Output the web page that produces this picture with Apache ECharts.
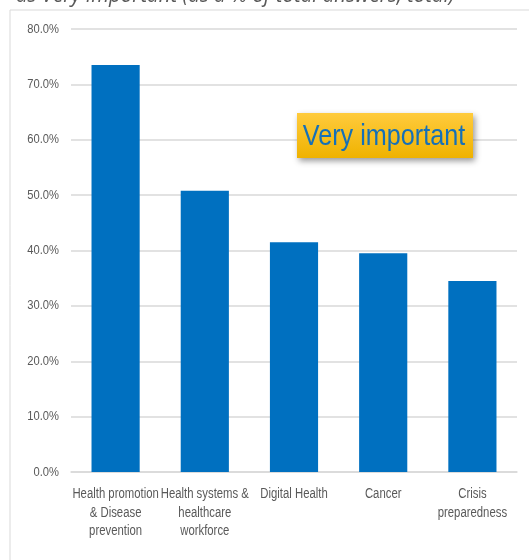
<!DOCTYPE html>
<html>
<head>
<meta charset="utf-8">
<script src="https://cdn.jsdelivr.net/npm/echarts@6/dist/echarts.min.js"></script>
<style>
  html, body { margin: 0; padding: 0; background: #fff; }
  #chart { width: 529px; height: 560px; }
</style>
</head>
<body>
<div id="chart"></div>
<script>
// Share of respondents rating each area "very important" (%)
const categories = [
  'Health promotion\n& Disease\nprevention',
  'Health systems &\nhealthcare\nworkforce',
  'Digital Health',
  'Cancer',
  'Crisis\npreparedness'
];
const veryImportant = [73.5, 50.8, 41.5, 39.5, 34.5];
const yTicks = [0, 10, 20, 30, 40, 50, 60, 70, 80];

const sans = '"Liberation Sans", Arial, sans-serif';
const labelColor = '#595959';
// no condensed face is installed, so labels are squeezed horizontally
const squeeze = 0.81;

const chart = echarts.init(document.getElementById('chart'), null, { renderer: 'canvas' });

const baseOption = {
  animation: false,
  backgroundColor: '#ffffff',
  grid: { left: 71, right: 12, top: 29, bottom: 88, containLabel: false },
  xAxis: {
    type: 'category',
    data: categories,
    axisLine: { show: true, lineStyle: { color: '#d9d9d9', width: 1.5 } },
    axisTick: { show: false },
    axisLabel: { show: false }
  },
  yAxis: {
    type: 'value',
    min: yTicks[0],
    max: yTicks[yTicks.length - 1],
    interval: yTicks[1] - yTicks[0],
    axisLine: { show: false },
    axisTick: { show: false },
    splitLine: { lineStyle: { color: '#d9d9d9', width: 1.5 } },
    axisLabel: { show: false }
  },
  series: [{
    type: 'bar',
    data: veryImportant,
    barWidth: '54%',
    itemStyle: { color: '#0070c0' }
  }]
};
chart.setOption(baseOption);

// Axis labels placed through the axes' own scales
const zeroY = chart.convertToPixel({ yAxisIndex: 0 }, 0);
const xLabels = categories.map((c, i) => ({
  type: 'text',
  silent: true,
  x: chart.convertToPixel({ xAxisIndex: 0 }, c),
  y: zeroY + 13,
  scaleX: squeeze,
  style: {
    text: c,
    font: '14px ' + sans,
    lineHeight: 18.5,
    fill: labelColor,
    align: 'center',
    verticalAlign: 'top'
  }
}));
const yLabels = yTicks.map(v => ({
  type: 'text',
  silent: true,
  x: 59,
  y: chart.convertToPixel({ yAxisIndex: 0 }, v),
  scaleX: 0.86,
  style: {
    text: v.toFixed(1) + '%',
    font: '13px ' + sans,
    fill: labelColor,
    align: 'right',
    verticalAlign: 'middle'
  }
}));

chart.setOption({
  graphic: [
    {
      type: 'rect',
      silent: true,
      shape: { x: 10, y: 10, width: 530, height: 560 },
      style: { fill: 'none', stroke: '#d9d9d9', lineWidth: 1 },
      z: -1
    },
    {
      type: 'text',
      silent: true,
      x: 16,
      y: -15,
      scaleX: 0.93,
      style: {
        text: 'as Very important (as a % of total answers, total)',
        font: 'italic 22px "Open Sans", sans-serif',
        fill: labelColor
      }
    },
    {
      type: 'group',
      x: 297,
      y: 113,
      children: [
        {
          type: 'rect',
          shape: { x: 0, y: 0, width: 176, height: 45 },
          style: {
            fill: new echarts.graphic.LinearGradient(0, 0, 0, 1, [
              { offset: 0, color: '#ffcb3d' },
              { offset: 1, color: '#efb200' }
            ]),
            shadowBlur: 6,
            shadowOffsetX: 2,
            shadowOffsetY: 3,
            shadowColor: 'rgba(0,0,0,0.4)'
          }
        },
        {
          type: 'text',
          x: 87,
          y: 24,
          scaleX: 0.84,
          style: {
            text: 'Very important',
            font: '30px ' + sans,
            fill: '#1570b8',
            align: 'center',
            verticalAlign: 'middle'
          }
        }
      ]
    }
  ].concat(xLabels, yLabels)
});
</script>
</body>
</html>
